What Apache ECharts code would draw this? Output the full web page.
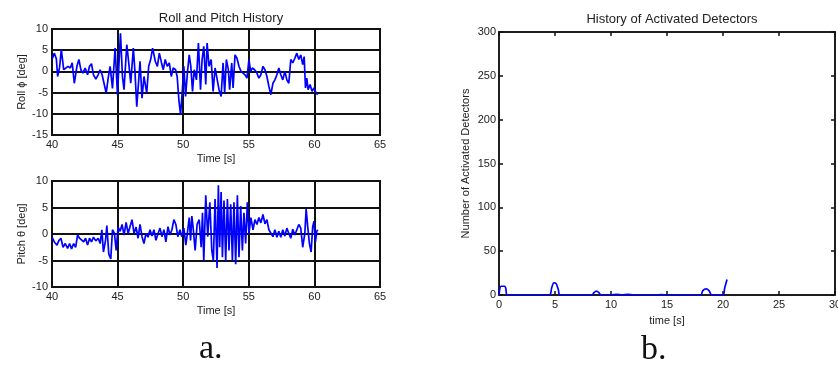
<!DOCTYPE html>
<html><head><meta charset="utf-8">
<script src="https://cdn.jsdelivr.net/npm/echarts@6/dist/echarts.min.js"></script>
<style>html,body{margin:0;padding:0;background:#fff}#c{width:838px;height:368px}</style>
</head><body><div id="c"></div>
<script>
const rollT = [40.00,40.18,40.33,40.43,40.58,40.71,40.89,41.04,41.22,41.39,41.54,41.70,41.90,42.05,42.20,42.35,42.53,42.71,42.86,43.01,43.16,43.34,43.52,43.67,43.82,43.97,44.13,44.30,44.43,44.61,44.81,44.99,45.22,45.37,45.49,45.70,45.85,46.00,46.20,46.33,46.46,46.61,46.71,46.86,47.01,47.22,47.37,47.52,47.67,47.87,48.03,48.18,48.35,48.48,48.63,48.78,48.94,49.09,49.24,49.42,49.54,49.67,49.80,49.92,50.05,50.18,50.33,50.46,50.58,50.71,50.84,51.01,51.16,51.32,51.44,51.57,51.72,51.82,51.97,52.13,52.28,52.43,52.58,52.73,52.89,53.04,53.16,53.29,53.44,53.54,53.70,53.80,53.95,54.10,54.25,54.41,54.56,54.71,54.86,55.01,55.14,55.27,55.44,55.62,55.77,55.92,56.08,56.23,56.38,56.53,56.68,56.84,56.99,57.14,57.29,57.44,57.59,57.75,57.90,58.05,58.20,58.35,58.51,58.66,58.81,58.96,59.11,59.22,59.32,59.42,59.52,59.67,59.82,59.97,60.13,60.25];
const rollV = [2.8,4.3,3,-1.2,1,5.2,0.4,0,1.2,0.8,2,-2.8,1.2,2.8,0.4,-0.4,0.8,-0.8,1.2,1.8,-0.8,-1.8,-0.8,0.4,-0.8,-1.2,-5.1,-1.2,1.2,-4,5.5,-5.5,9,-1.2,-4.3,6.3,2,-2.8,5.5,-0.4,-8.3,-2,2.4,-6.3,-1.2,-5.1,1.2,2.8,5.5,2.4,1.2,4.3,2,0.4,2.8,1.2,2,-1.2,0.8,0.4,-1.2,-6.7,-10.2,-5.1,1.2,-5.9,0,3.9,1.2,-4.7,0.4,-2,6.7,-4.3,2.8,5.9,-3.1,6.7,1.2,2.8,-4.7,0.8,1.2,-4.3,-5.9,2,-5.1,2.8,0.4,-4.3,2,-3.9,3.9,3.1,1.2,0,0.4,-0.8,-1.6,2.8,0,0.8,0.4,-0.4,-1.6,-0.8,1.2,0.4,-1.2,-3.5,-5.5,-2.8,-2,-0.8,0.8,-0.8,-2,0,-2,-2.8,2.8,2,3.1,4.3,2.8,3.9,1.6,3.5,-3.9,-1.6,-4.3,-3.1,-4.7,-3.9,-5.1,-5.5];
const pitchT = [40.00,40.18,40.38,40.53,40.68,40.84,41.01,41.19,41.34,41.49,41.65,41.80,41.95,42.10,42.25,42.41,42.56,42.71,42.86,43.01,43.16,43.34,43.52,43.67,43.80,43.92,44.08,44.18,44.33,44.48,44.61,44.76,44.89,45.04,45.19,45.34,45.49,45.65,45.80,45.95,46.10,46.25,46.41,46.56,46.71,46.86,47.01,47.16,47.32,47.47,47.62,47.77,47.92,48.08,48.23,48.38,48.53,48.68,48.84,48.99,49.14,49.29,49.44,49.59,49.75,49.90,50.05,50.20,50.30,50.46,50.56,50.66,50.76,50.91,51.06,51.22,51.37,51.47,51.57,51.72,51.87,52.03,52.18,52.30,52.43,52.58,52.68,52.78,52.89,52.99,53.11,53.24,53.37,53.49,53.62,53.75,53.87,54.00,54.13,54.25,54.38,54.51,54.63,54.76,54.89,55.01,55.16,55.32,55.47,55.62,55.77,55.92,56.08,56.23,56.38,56.53,56.68,56.84,56.99,57.14,57.29,57.44,57.59,57.75,57.90,58.05,58.20,58.35,58.51,58.66,58.81,58.96,59.11,59.27,59.37,59.49,59.62,59.75,59.87,59.97,60.08,60.18,60.25];
const pitchV = [-0.6,-1.5,-2.1,-1.2,-0.8,-2.5,-1.8,-2.7,-1.8,-2.8,-1.8,-2.5,-0.2,-0.8,-0.5,-1.5,-0.8,-2.1,-0.8,-1.5,-0.6,-1.3,-0.8,-1.8,0.8,-3.4,-1.2,1.6,-3.8,-4.7,0.8,0.1,-3.1,1.3,0.5,1.8,-0.2,2.2,0.1,1.4,2.7,0.1,1.3,-0.8,1.8,-0.5,-1.8,0.1,-0.6,0.8,-0.4,0.8,-1.2,0.1,1.1,-0.5,0.8,-1.5,1.4,-0.2,0.8,2.7,1.8,-0.5,0.8,-0.5,1.1,-2.1,-0.2,3.1,-1.2,3.4,1.1,-3.1,1.8,2.7,-2.5,4,-5.1,7.3,-0.5,6,-3.1,-5.1,6.6,-6.4,9.2,-2.5,7.9,-4.4,6.3,-5.1,6.6,-3.1,5.6,-5.1,6,-5.7,7.3,-4.4,5.3,-3.1,4,-1.8,6,0.1,3.1,0.8,2.7,1.8,3.1,2.1,3.7,1.9,2.7,0.8,0.5,-0.5,0.8,-0.6,0.5,-0.6,0.8,-0.4,1.1,0.1,-0.8,0.9,-0.2,0.8,1.8,1.1,-2.5,0.1,4.7,1.4,-1.8,-3.4,1.4,2.4,-1.5,0.5,0.8];
const detT = [0,0.1,0.2,0.5,0.6,0.75,4.5,4.7,4.9,5.1,5.3,5.45,8.3,8.5,8.7,8.9,9.1,10,10.5,11,11.5,12,14,14.5,15,18.0,18.2,18.5,18.75,19.0,20.0,20.15,20.36];
const detV = [0,9,10,10,8,0,0,8,14,13,6,0,0,3,4.5,3,0,0,0.8,0,0.8,0,0,0.5,0,0,5,7,5,0,0,8,17.7];

const titleLeft = 'Roll and Pitch History';
const titleRight = 'History of Activated Detectors';

const zip = (a, b) => a.map((t, i) => [t, b[i]]);
const font = 'Liberation Sans, Arial, sans-serif';
const lblStyle = {color: '#222', fontFamily: font, fontSize: 11};
const nameStyle = {color: '#222', fontFamily: font, fontSize: 11};

function leftX(gi) {
  return {type: 'value', gridIndex: gi, min: 40, max: 65, interval: 5,
    name: 'Time [s]', nameLocation: 'middle', nameGap: 18, nameTextStyle: nameStyle,
    axisLine: {show: false}, axisTick: {show: false},
    axisLabel: Object.assign({margin: 4}, lblStyle),
    splitLine: {show: true, lineStyle: {color: '#111', width: 2}}};
}
function leftY(gi, min, max, name) {
  return {type: 'value', gridIndex: gi, min: min, max: max, interval: 5,
    name: name, nameLocation: 'middle', nameGap: 25, nameTextStyle: nameStyle,
    axisLine: {show: false}, axisTick: {show: false},
    axisLabel: Object.assign({margin: 4}, lblStyle),
    splitLine: {show: true, lineStyle: {color: '#111', width: 2}}};
}
const lineStyle = {color: '#0000ff', width: 1.7};
const tickStyle = {show: true, inside: true, length: 4, lineStyle: {color: '#111', width: 1.5}};
const axLine = {show: true, onZero: false, lineStyle: {color: '#111', width: 1.5}};

const option = {
  animation: false,
  backgroundColor: '#fff',
  title: [
    {text: titleLeft, left: 216, top: 7, textAlign: 'center', textStyle: {fontFamily: font, fontSize: 13, fontWeight: 'normal', color: '#222'}},
    {text: titleRight, left: 667, top: 8, textAlign: 'center', textStyle: {fontFamily: font, fontSize: 13, fontWeight: 'normal', color: '#222'}}
  ],
  grid: [
    {left: 52, top: 29, width: 328, height: 106, outerBoundsMode: 'none', show: true, borderColor: '#111', borderWidth: 2, backgroundColor: 'transparent'},
    {left: 52, top: 181, width: 328, height: 106, outerBoundsMode: 'none', show: true, borderColor: '#111', borderWidth: 2, backgroundColor: 'transparent'},
    {left: 499, top: 32, width: 336, height: 263, outerBoundsMode: 'none', show: true, borderColor: '#111', borderWidth: 1.5, backgroundColor: 'transparent'}
  ],
  xAxis: [
    leftX(0), leftX(1),
    {type: 'value', gridIndex: 2, position: 'bottom', min: 0, max: 30, interval: 5,
      name: 'time [s]', nameLocation: 'middle', nameGap: 20, nameTextStyle: nameStyle,
      axisLine: axLine, axisTick: tickStyle,
      axisLabel: Object.assign({margin: 4}, lblStyle), splitLine: {show: false}},
    {type: 'value', gridIndex: 2, position: 'top', min: 0, max: 30, interval: 5,
      axisLine: axLine, axisTick: tickStyle,
      axisLabel: {show: false}, splitLine: {show: false}}
  ],
  yAxis: [
    leftY(0, -15, 10, 'Roll ϕ [deg]'), leftY(1, -10, 10, 'Pitch θ [deg]'),
    {type: 'value', gridIndex: 2, position: 'left', min: 0, max: 300, interval: 50,
      name: 'Number of Activated Detectors', nameLocation: 'middle', nameGap: 28, nameTextStyle: nameStyle,
      axisLine: axLine, axisTick: tickStyle,
      axisLabel: Object.assign({margin: 3}, lblStyle), splitLine: {show: false}},
    {type: 'value', gridIndex: 2, position: 'right', min: 0, max: 300, interval: 50,
      axisLine: axLine, axisTick: tickStyle,
      axisLabel: {show: false}, splitLine: {show: false}}
  ],
  series: [
    {type: 'line', xAxisIndex: 0, yAxisIndex: 0, data: zip(rollT, rollV), showSymbol: false, lineStyle: lineStyle, z: 5},
    {type: 'line', xAxisIndex: 1, yAxisIndex: 1, data: zip(pitchT, pitchV), showSymbol: false, lineStyle: lineStyle, z: 5},
    {type: 'line', xAxisIndex: 2, yAxisIndex: 2, data: zip(detT, detV), showSymbol: false, smooth: 0.3, lineStyle: lineStyle, z: 5}
  ],
  graphic: [
    {type: 'text', left: 199, top: 332, style: {text: 'a.', font: '34px "Liberation Serif", serif', fill: '#111'}},
    {type: 'text', left: 641, top: 333, style: {text: 'b.', font: '34px "Liberation Serif", serif', fill: '#111'}}
  ]
};
const chart = echarts.init(document.getElementById('c'), null, {renderer: 'canvas'});
chart.setOption(option);
</script></body></html>
